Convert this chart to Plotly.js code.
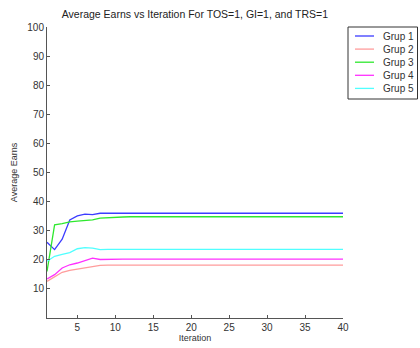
<!DOCTYPE html>
<html>
<head>
<meta charset="utf-8">
<script src="https://cdn.plot.ly/plotly-3.0.1.min.js"></script>
<style>html,body{margin:0;padding:0;background:#fff;}#chart{width:420px;height:348px;}</style>
</head>
<body>
<div id="chart"></div>
<script>
var iterations = [1,2,3,4,5,6,7,8,9,10,11,12,13,14,15,16,17,18,19,20,21,22,23,24,25,26,27,28,29,30,31,32,33,34,35,36,37,38,39,40];
var seriesNames = ["Grup 1","Grup 2","Grup 3","Grup 4","Grup 5"];
var grup1 = [26.0,23.5,27.1,33.7,35.1,35.7,35.5,36.0,36.0,36.0,36.0,36.0,36.0,36.0,36.0,36.0,36.0,36.0,36.0,36.0,36.0,36.0,36.0,36.0,36.0,36.0,36.0,36.0,36.0,36.0,36.0,36.0,36.0,36.0,36.0,36.0,36.0,36.0,36.0,36.0];
var grup2 = [12.6,14.1,15.7,16.4,16.8,17.2,17.8,18.1,18.2,18.2,18.2,18.2,18.2,18.2,18.2,18.2,18.2,18.2,18.2,18.2,18.2,18.2,18.2,18.2,18.2,18.2,18.2,18.2,18.2,18.2,18.2,18.2,18.2,18.2,18.2,18.2,18.2,18.2,18.2,18.2];
var grup3 = [16.0,32.0,32.4,33.0,33.3,33.5,33.7,34.3,34.5,34.6,34.7,34.8,34.8,34.8,34.8,34.8,34.8,34.8,34.8,34.8,34.8,34.8,34.8,34.8,34.8,34.8,34.8,34.8,34.8,34.8,34.8,34.8,34.8,34.8,34.8,34.8,34.8,34.8,34.8,34.8];
var grup4 = [13.4,14.9,17.2,18.3,18.9,19.8,20.6,20.1,20.2,20.2,20.2,20.2,20.2,20.2,20.2,20.2,20.2,20.2,20.2,20.2,20.2,20.2,20.2,20.2,20.2,20.2,20.2,20.2,20.2,20.2,20.2,20.2,20.2,20.2,20.2,20.2,20.2,20.2,20.2,20.2];
var grup5 = [19.5,21.2,21.9,22.5,23.8,24.2,24.0,23.5,23.6,23.6,23.6,23.6,23.6,23.6,23.6,23.6,23.6,23.6,23.6,23.6,23.6,23.6,23.6,23.6,23.6,23.6,23.6,23.6,23.6,23.6,23.6,23.6,23.6,23.6,23.6,23.6,23.6,23.6,23.6,23.6];
var xTicks = [5,10,15,20,25,30,35,40];
var yTicks = [10,20,30,40,50,60,70,80,90,100];
var colors = ["#3c3cff","#ff9c9c","#2ee82e","#ff30ff","#50ffff"];

var allSeries = [grup1, grup2, grup3, grup4, grup5];
var traces = allSeries.map(function(s, i){
  return {x: iterations, y: s, name: seriesNames[i], type: "scatter", mode: "lines",
          line: {color: colors[i], width: 1.3}, showlegend: false};
});

// Compact legend box (MATLAB-style), drawn in paper coordinates
var plotL = 47, plotR = 343, plotT = 27, plotB = 318;
function px2x(p){ return (p - plotL) / (plotR - plotL); }
function px2y(p){ return (plotB - p) / (plotB - plotT); }
var shapes = [{type: "rect", xref: "paper", yref: "paper",
  x0: px2x(348), x1: px2x(417.5), y0: px2y(99), y1: px2y(27),
  line: {color: "#333", width: 1}, fillcolor: "#fff"}];
var annotations = [];
seriesNames.forEach(function(n, i){
  var yy = px2y(36 + 13.1 * i);
  shapes.push({type: "line", xref: "paper", yref: "paper", x0: px2x(355), x1: px2x(374), y0: yy, y1: yy,
               line: {color: colors[i], width: 1.3}});
  annotations.push({xref: "paper", yref: "paper", x: px2x(381), y: yy, xanchor: "left", yanchor: "middle",
                    text: n, showarrow: false, font: {size: 10, color: "#333"}});
});

var fontFam = "Liberation Sans, Arial, sans-serif";
var layout = {
  width: 420, height: 348,
  margin: {l: plotL, r: 420 - plotR, t: plotT, b: 348 - plotB, pad: 0, autoexpand: false},
  paper_bgcolor: "#fff", plot_bgcolor: "#fff",
  font: {family: fontFam, size: 10, color: "#333"},
  title: {text: "Average Earns vs Iteration For TOS=1, GI=1, and TRS=1", font: {size: 10.5, color: "#222"},
          x: 0.464, xanchor: "center", y: 0.96, yanchor: "middle"},
  xaxis: {range: [1, 40], tickvals: xTicks, ticks: "inside", ticklen: 3, tickcolor: "#555",
          showline: true, linecolor: "#555", linewidth: 1, showgrid: false, zeroline: false,
          tickfont: {size: 10, color: "#333"},
          title: {text: "Iteration", font: {size: 9, color: "#333"}, standoff: 2}},
  yaxis: {range: [0, 100], tickvals: yTicks, ticks: "inside", ticklen: 3, tickcolor: "#555",
          showline: true, linecolor: "#555", linewidth: 1, showgrid: false, zeroline: false,
          tickfont: {size: 10, color: "#333"},
          title: {text: "Average Earns", font: {size: 9, color: "#333"}, standoff: 8}},
  showlegend: false,
  shapes: shapes,
  annotations: annotations
};
Plotly.newPlot("chart", traces, layout, {staticPlot: true, displayModeBar: false});
</script>
</body>
</html>
